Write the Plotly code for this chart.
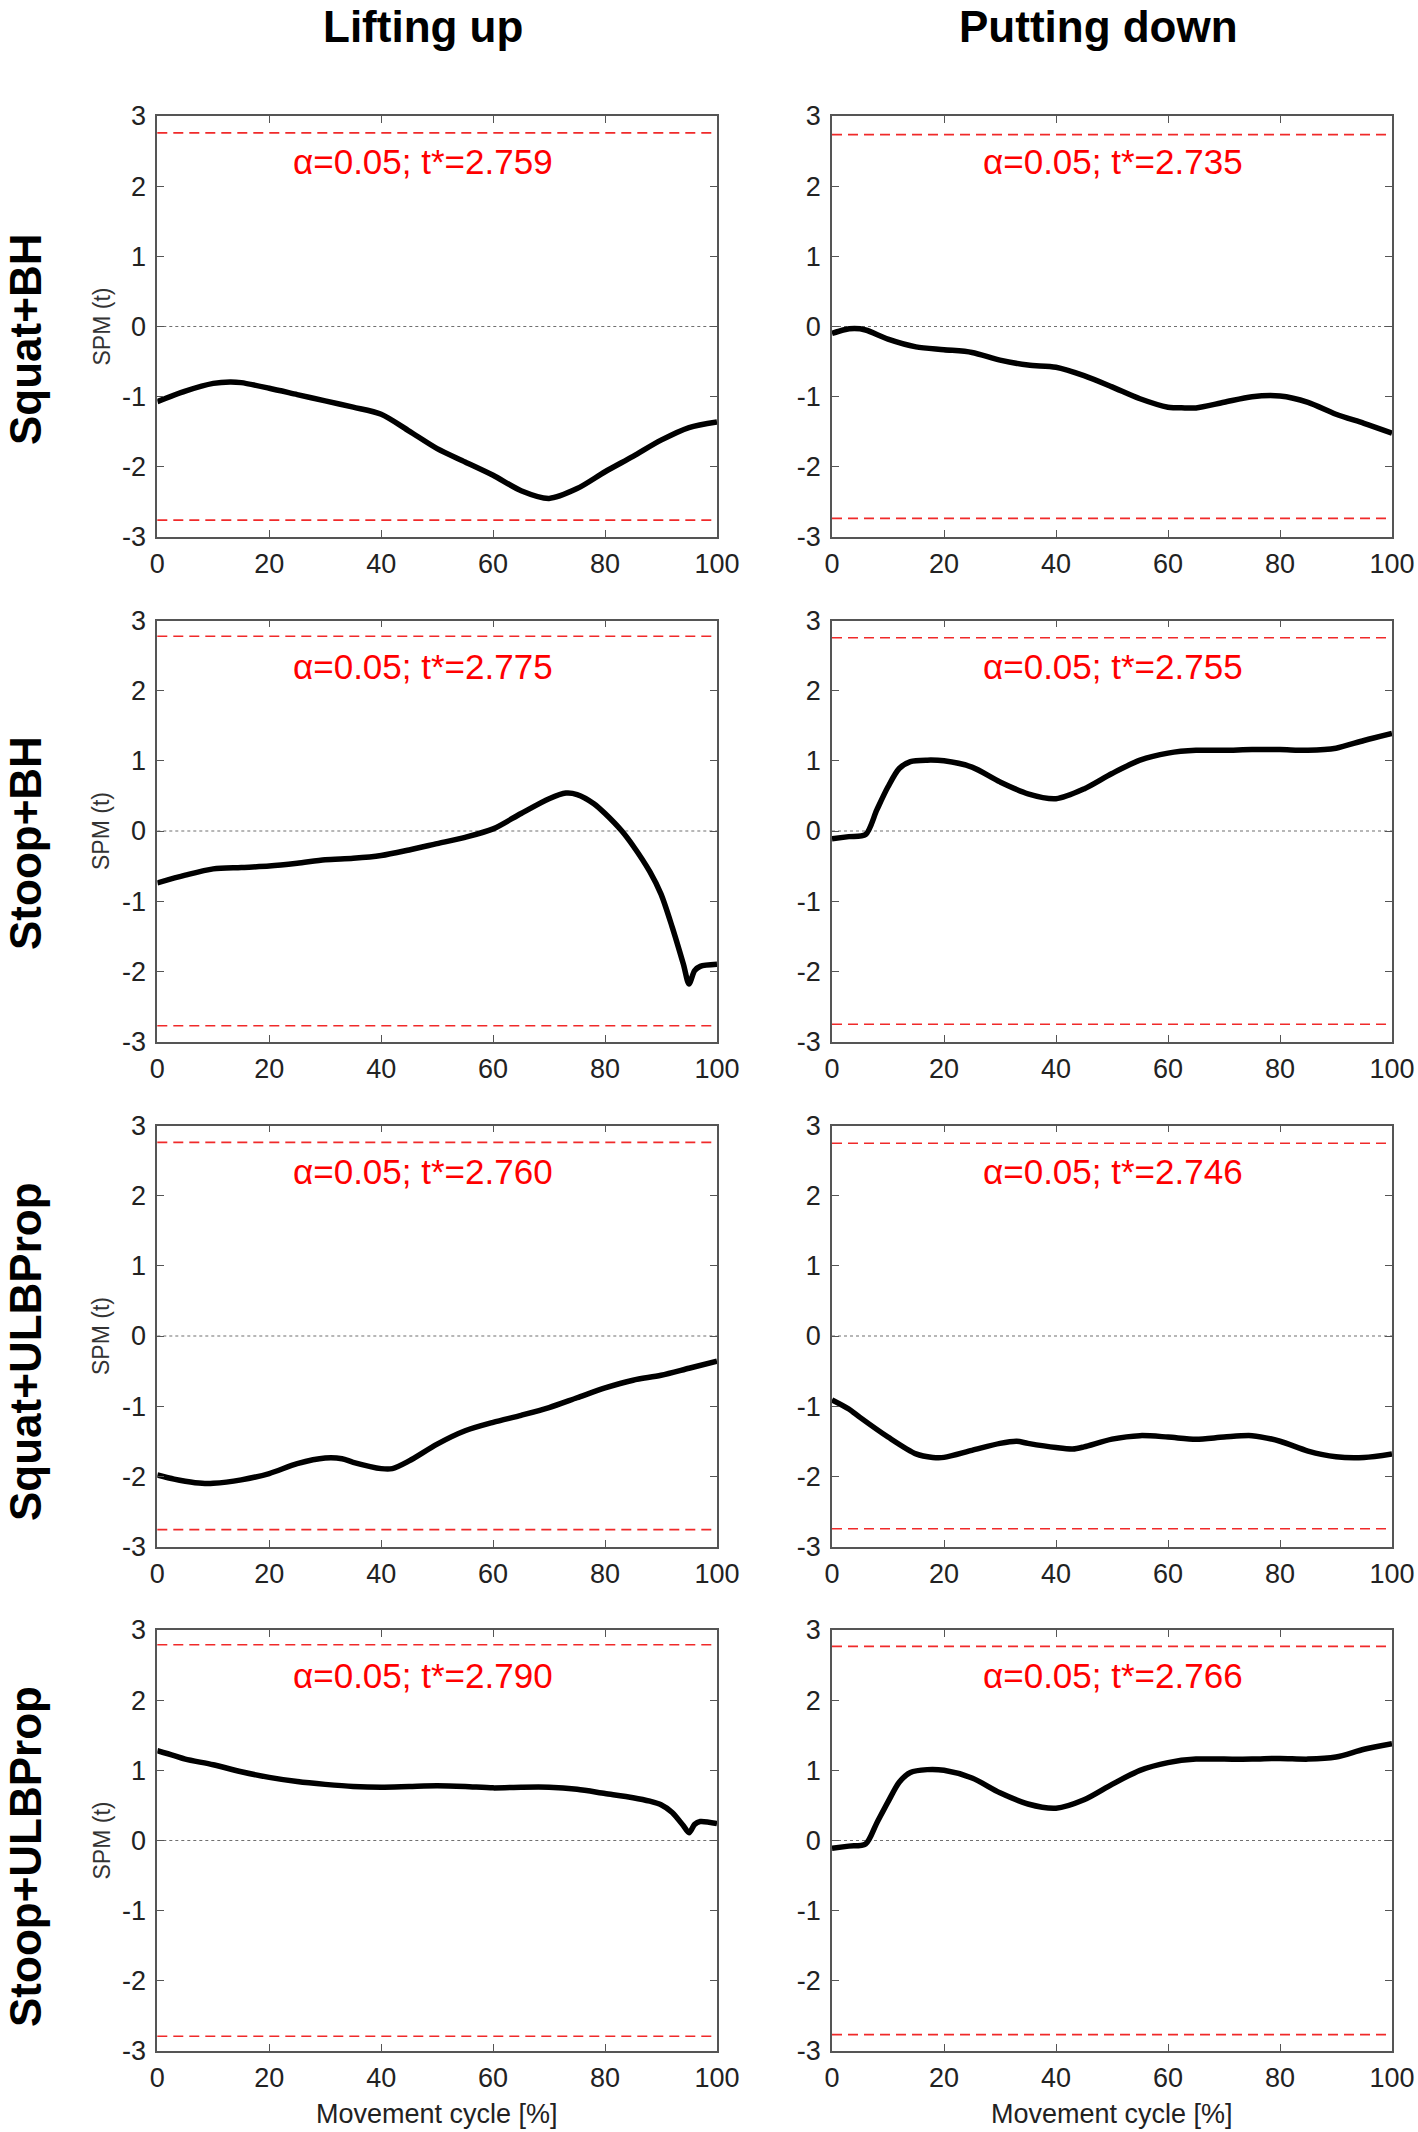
import plotly.graph_objects as go

# ---------------- data ----------------
col_titles = ["Lifting up", "Putting down"]
row_titles = ["Squat+BH", "Stoop+BH", "Squat+ULBProp", "Stoop+ULBProp"]

x_ticks = [0, 20, 40, 60, 80, 100]
x_ticktext = ["0", "20", "40", "60", "80", "100"]
y_ticks = [-3, -2, -1, 0, 1, 2, 3]
y_ticktext = ["-3", "-2", "-1", "0", "1", "2", "3"]

# critical thresholds t* (row-major: lifting, putting)
t_crit = [2.759, 2.735, 2.775, 2.755, 2.760, 2.746, 2.790, 2.766]

# Row 1 - Squat+BH
x_sq_bh_lift = [0, 5, 10, 13, 15, 20, 25, 30, 35, 40, 45, 50, 55, 60, 65, 70, 75, 80, 85, 90, 95, 100]
y_sq_bh_lift = [-1.07, -0.92, -0.81, -0.79, -0.80, -0.88, -0.97, -1.06, -1.15, -1.25, -1.49, -1.74,
                -1.93, -2.12, -2.34, -2.45, -2.31, -2.07, -1.85, -1.62, -1.44, -1.36]
x_sq_bh_put = [0, 2, 4, 6, 10, 15, 20, 25, 30, 35, 40, 45, 50, 55, 60, 63, 65, 70, 75, 80, 85, 90, 95, 100]
y_sq_bh_put = [-0.10, -0.05, -0.03, -0.05, -0.18, -0.29, -0.33, -0.37, -0.48, -0.55, -0.58, -0.70,
               -0.86, -1.03, -1.15, -1.16, -1.16, -1.08, -1.00, -0.99, -1.08, -1.25, -1.38, -1.52]

# Row 2 - Stoop+BH
x_st_bh_lift = [0, 5, 10, 15, 20, 25, 30, 35, 40, 45, 50, 55, 60, 65, 70, 73, 75, 78, 80, 83, 85, 88,
                90, 92, 94, 95, 96, 97, 100]
y_st_bh_lift = [-0.74, -0.63, -0.54, -0.52, -0.50, -0.46, -0.41, -0.39, -0.35, -0.27, -0.18, -0.09,
                0.03, 0.25, 0.46, 0.54, 0.52, 0.39, 0.25, 0.00, -0.21, -0.58, -0.90, -1.37, -1.90,
                -2.18, -1.99, -1.93, -1.90]
x_st_bh_put = [0, 3, 6, 8, 10, 12, 14, 17, 20, 25, 30, 35, 40, 45, 50, 55, 60, 65, 70, 75, 80, 85, 90, 95, 100]
y_st_bh_put = [-0.11, -0.08, -0.05, 0.30, 0.63, 0.89, 0.99, 1.01, 1.00, 0.91, 0.70, 0.53, 0.46, 0.60,
               0.82, 1.01, 1.11, 1.15, 1.15, 1.16, 1.16, 1.15, 1.18, 1.29, 1.39]

# Row 3 - Squat+ULBProp
x_sq_ulb_lift = [0, 3, 5, 8, 10, 15, 20, 25, 30, 33, 35, 40, 42, 45, 50, 55, 60, 65, 70, 75, 80, 85, 90, 95, 100]
y_sq_ulb_lift = [-1.98, -2.04, -2.07, -2.10, -2.10, -2.05, -1.96, -1.82, -1.74, -1.75, -1.80, -1.89,
                 -1.89, -1.78, -1.54, -1.35, -1.23, -1.13, -1.02, -0.88, -0.74, -0.63, -0.56, -0.46, -0.36]
x_sq_ulb_put = [0, 3, 5, 10, 15, 18, 20, 25, 30, 33, 35, 40, 43, 45, 50, 55, 60, 65, 70, 75, 80, 85, 90, 95, 100]
y_sq_ulb_put = [-0.91, -1.04, -1.16, -1.44, -1.68, -1.73, -1.73, -1.63, -1.53, -1.50, -1.53, -1.59,
                -1.61, -1.58, -1.47, -1.42, -1.44, -1.47, -1.44, -1.42, -1.50, -1.64, -1.72, -1.73, -1.68]

# Row 4 - Stoop+ULBProp
x_st_ulb_lift = [0, 3, 5, 10, 15, 20, 25, 30, 35, 40, 45, 50, 55, 60, 65, 70, 75, 80, 85, 88, 90, 92,
                 94, 95, 96, 97, 100]
y_st_ulb_lift = [1.28, 1.21, 1.16, 1.08, 0.98, 0.90, 0.84, 0.80, 0.77, 0.76, 0.77, 0.78, 0.77, 0.75,
                 0.76, 0.76, 0.73, 0.67, 0.61, 0.56, 0.51, 0.40, 0.21, 0.11, 0.23, 0.27, 0.24]
x_st_ulb_put = [0, 3, 6, 8, 10, 12, 14, 17, 20, 25, 30, 35, 40, 45, 50, 55, 60, 65, 70, 75, 80, 85, 90, 95, 100]
y_st_ulb_put = [-0.11, -0.08, -0.05, 0.25, 0.55, 0.83, 0.97, 1.01, 1.00, 0.89, 0.68, 0.52, 0.46, 0.58,
                0.80, 1.00, 1.11, 1.16, 1.16, 1.16, 1.17, 1.16, 1.19, 1.30, 1.38]

curves = [
    (x_sq_bh_lift, y_sq_bh_lift), (x_sq_bh_put, y_sq_bh_put),
    (x_st_bh_lift, y_st_bh_lift), (x_st_bh_put, y_st_bh_put),
    (x_sq_ulb_lift, y_sq_ulb_lift), (x_sq_ulb_put, y_sq_ulb_put),
    (x_st_ulb_lift, y_st_ulb_lift), (x_st_ulb_put, y_st_ulb_put),
]

# ---------------- layout constants ----------------
W, H = 1418, 2132
COL_PX = [(157.3, 717.0), (832.0, 1392.0)]
ROW_PX = [(116.0, 537.0), (620.5, 1041.5), (1125.5, 1546.5), (1630.0, 2051.0)]
ROW_LABEL_CY = [340, 843, 1352, 1857]
ROW_LABEL_X = 25
COL_TITLE_CX = [423, 1098]
TEXT_X = [47.5, 50.2]
TEXT_Y = 2.35

FONT = "Liberation Sans, Arial, Helvetica, sans-serif"
AX_COLOR = "#555555"
TICK_FONT = dict(family=FONT, size=27, color="#222222")

fig = go.Figure()
layout = dict(
    template="none",
    width=W, height=H,
    margin=dict(l=0, r=0, t=0, b=0, autoexpand=False),
    paper_bgcolor="white", plot_bgcolor="white",
    showlegend=False,
    font=dict(family=FONT),
)
shapes = []
annotations = []

for r in range(4):
    for c in range(2):
        k = r * 2 + c + 1
        xs, ys = curves[k - 1]
        t = t_crit[k - 1]
        xa = "x" if k == 1 else f"x{k}"
        ya = "y" if k == 1 else f"y{k}"
        x0p, x1p = COL_PX[c]
        y0p, y1p = ROW_PX[r]
        layout[f"xaxis{'' if k == 1 else k}"] = dict(
            domain=[x0p / W, x1p / W], anchor=ya, range=[x_ticks[0], x_ticks[-1]],
            tickmode="array", tickvals=x_ticks, ticktext=x_ticktext,
            ticks="inside", ticklen=7, tickwidth=1.2, tickcolor=AX_COLOR,
            showline=True, linecolor=AX_COLOR, linewidth=1.6, mirror="ticks",
            showgrid=False, zeroline=False, tickfont=TICK_FONT, ticklabelstandoff=2,
            automargin=False,
        )
        layout[f"yaxis{'' if k == 1 else k}"] = dict(
            domain=[1 - y1p / H, 1 - y0p / H], anchor=xa, range=[y_ticks[0], y_ticks[-1]],
            tickmode="array", tickvals=y_ticks, ticktext=y_ticktext,
            ticks="inside", ticklen=7, tickwidth=1.2, tickcolor=AX_COLOR,
            showline=True, linecolor=AX_COLOR, linewidth=1.6, mirror="ticks",
            showgrid=False, zeroline=False, tickfont=TICK_FONT, ticklabelstandoff=4,
            automargin=False,
        )
        # zero dotted line
        shapes.append(dict(type="line", xref=f"{xa} domain", yref=ya, x0=0, x1=1, y0=0, y1=0,
                           line=dict(color="#707070", width=1.2, dash="dot"), layer="below"))
        # thresholds
        for sgn in (1, -1):
            shapes.append(dict(type="line", xref=f"{xa} domain", yref=ya, x0=0, x1=1,
                               y0=sgn * t, y1=sgn * t,
                               line=dict(color="#f02a2a", width=1.6, dash="10px,6px")))
        fig.add_trace(go.Scatter(
            x=xs, y=ys, mode="lines", xaxis=xa, yaxis=ya,
            line=dict(color="black", width=5.5, shape="spline", smoothing=0.8),
            hoverinfo="skip",
        ))
        annotations.append(dict(
            xref=xa, yref=ya, x=TEXT_X[c], y=TEXT_Y, showarrow=False,
            text=f"α=0.05; t*={t:.3f}", xanchor="center", yanchor="middle",
            font=dict(family=FONT, size=35, color="#ff0000"),
        ))
        if c == 0:
            annotations.append(dict(
                xref="paper", yref="paper", x=101 / W, y=1 - (y0p + y1p) / 2 / H,
                text="SPM (t)", textangle=-90, showarrow=False,
                xanchor="center", yanchor="middle",
                font=dict(family=FONT, size=23, color="#333333"),
            ))

for r, label in enumerate(row_titles):
    annotations.append(dict(
        xref="paper", yref="paper", x=ROW_LABEL_X / W, y=1 - ROW_LABEL_CY[r] / H,
        text=label, textangle=-90, showarrow=False, xanchor="center", yanchor="middle",
        font=dict(family=FONT, size=44, color="black", weight="bold"),
    ))

for c, label in enumerate(col_titles):
    annotations.append(dict(
        xref="paper", yref="paper", x=COL_TITLE_CX[c] / W, y=1,
        text=label, showarrow=False, xanchor="center", yanchor="top",
        font=dict(family=FONT, size=44, color="black", weight="bold"),
    ))
    x0p, x1p = COL_PX[c]
    annotations.append(dict(
        xref="paper", yref="paper", x=(x0p + x1p) / 2 / W, y=1 - 2114 / H,
        text="Movement cycle [%]", showarrow=False, xanchor="center", yanchor="middle",
        font=dict(family=FONT, size=27, color="#222222"),
    ))

layout["shapes"] = shapes
layout["annotations"] = annotations
fig.update_layout(**layout)
fig.write_html(
    "out.html",
    config={"displayModeBar": False},
    post_script="document.body.style.margin='0';document.body.style.padding='0';",
)
